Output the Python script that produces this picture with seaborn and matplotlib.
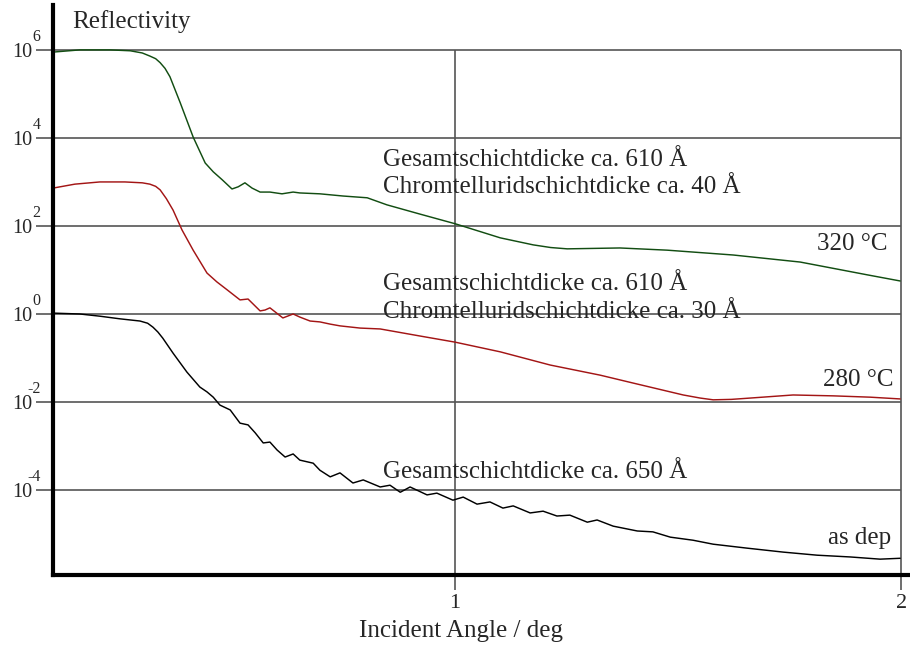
import numpy as np
import pandas as pd
import matplotlib
matplotlib.use("Agg")
import matplotlib.pyplot as plt
import seaborn as sns

# Reflektivitaetskurven (Winkel in deg, log10 der Reflektivitaet)
x_320 = [0.10, 0.16, 0.228, 0.273, 0.300, 0.317, 0.330, 0.340, 0.351, 0.362, 0.385, 0.414,
         0.441, 0.459, 0.479, 0.501, 0.515, 0.530, 0.546, 0.564, 0.586, 0.613, 0.638, 0.653,
         0.698, 0.750, 0.804, 0.848, 0.922, 1.001, 1.102, 1.176, 1.215, 1.252, 1.370, 1.476,
         1.624, 1.774, 1.924, 1.998]
log_320 = [5.95, 6.0, 6.0, 5.98, 5.93, 5.86, 5.80, 5.71, 5.58, 5.39, 4.80, 4.02,
           3.43, 3.23, 3.05, 2.84, 2.89, 2.98, 2.86, 2.77, 2.77, 2.73, 2.77, 2.75,
           2.73, 2.68, 2.64, 2.48, 2.27, 2.05, 1.73, 1.57, 1.51, 1.48, 1.50, 1.45,
           1.34, 1.18, 0.89, 0.75]

x_280 = [0.10, 0.149, 0.205, 0.261, 0.300, 0.317, 0.330, 0.340, 0.354, 0.369, 0.389, 0.414,
         0.445, 0.467, 0.490, 0.519, 0.537, 0.564, 0.575, 0.586, 0.615, 0.638, 0.653, 0.676,
         0.698, 0.721, 0.743, 0.788, 0.833, 0.922, 1.001, 1.102, 1.214, 1.326, 1.400, 1.512,
         1.550, 1.579, 1.620, 1.662, 1.758, 1.848, 1.931, 1.998]
log_280 = [2.86, 2.95, 3.0, 3.0, 2.98, 2.95, 2.90, 2.82, 2.62, 2.36, 1.91, 1.45,
           0.93, 0.73, 0.55, 0.32, 0.34, 0.07, 0.09, 0.14, -0.09, 0.0, -0.07, -0.16,
           -0.18, -0.23, -0.27, -0.32, -0.34, -0.50, -0.64, -0.86, -1.16, -1.39, -1.57, -1.84,
           -1.91, -1.95, -1.94, -1.91, -1.84, -1.86, -1.89, -1.93]

x_dep = [0.10, 0.16, 0.205, 0.25, 0.295, 0.312, 0.324, 0.335, 0.346, 0.369, 0.400, 0.429,
         0.445, 0.459, 0.474, 0.497, 0.519, 0.537, 0.553, 0.571, 0.586, 0.602, 0.620, 0.638,
         0.653, 0.683, 0.698, 0.721, 0.743, 0.772, 0.795, 0.833, 0.855, 0.878, 0.900, 0.938,
         0.960, 0.996, 1.019, 1.050, 1.079, 1.108, 1.131, 1.169, 1.198, 1.229, 1.258, 1.297,
         1.319, 1.355, 1.409, 1.444, 1.483, 1.534, 1.579, 1.655, 1.736, 1.812, 1.886, 1.953,
         1.998]
log_dep = [0.02, 0.0, -0.05, -0.11, -0.16, -0.21, -0.30, -0.41, -0.55, -0.89, -1.32, -1.66,
           -1.77, -1.89, -2.07, -2.18, -2.48, -2.52, -2.70, -2.93, -2.91, -3.09, -3.25, -3.18,
           -3.32, -3.39, -3.55, -3.70, -3.61, -3.84, -3.77, -3.93, -3.89, -4.05, -3.93, -4.11,
           -4.07, -4.23, -4.16, -4.32, -4.27, -4.41, -4.36, -4.52, -4.48, -4.59, -4.57, -4.73,
           -4.68, -4.82, -4.93, -4.95, -5.07, -5.14, -5.23, -5.32, -5.41, -5.48, -5.52, -5.57,
           -5.55]

y_ticks = [1e6, 1e4, 1e2, 1e0, 1e-2, 1e-4]
y_exponents = ["6", "4", "2", "0", "-2", "-4"]
x_ticks = [1, 2]
x_ticklabels = ["1", "2"]

sns.set_style("white")
plt.rcParams["font.family"] = ["Liberation Serif", "DejaVu Serif"]

fig = plt.figure(figsize=(9.1, 6.5), dpi=100)
ax = fig.add_axes([53 / 910, 75 / 650, 857 / 910, 570 / 650])

grid_color = "#555555"

sns.lineplot(x=x_320, y=10 ** np.array(log_320), ax=ax, color="#124d12", lw=1.05)
sns.lineplot(x=x_280, y=10 ** np.array(log_280), ax=ax, color="#a31515", lw=1.05)
sns.lineplot(x=x_dep, y=10 ** np.array(log_dep), ax=ax, color="black", lw=1.05)

ax.set_yscale("log")
ax.set_xlim(0.1, 2.02)
ax.set_ylim(10 ** -5.93, 10 ** 7.02)

# Gitterlinien
ax.hlines(y_ticks, 0.1, 2.0, color=grid_color, lw=1.2, zorder=0)
ax.vlines(x_ticks, 10 ** -5.93, 1e6, color=grid_color, lw=1.2, zorder=0)

ax.set_xticks(x_ticks)
ax.set_xticklabels(x_ticklabels, fontsize=16)
ax.set_yticks(y_ticks)
ax.set_yticklabels(["10"] * len(y_ticks), fontsize=14.5)
ax.minorticks_off()
ax.tick_params(axis="y", length=12, width=1.2, color=grid_color, pad=3, left=True)
ax.tick_params(axis="x", length=11, width=1.2, color=grid_color, pad=3, bottom=True)

for yv, ex in zip(y_ticks, y_exponents):
    ax.annotate(ex, xy=(0, yv), xycoords=("axes fraction", "data"),
                xytext=(-9, 9.5), textcoords="offset points",
                ha="right", va="center", fontsize=11.5)

for side in ["top", "right"]:
    ax.spines[side].set_visible(False)
for side in ["left", "bottom"]:
    ax.spines[side].set_linewidth(3)
    ax.spines[side].set_color("black")

ax.set_xlabel("Incident Angle / deg", fontsize=18)
ax.xaxis.set_label_coords(408 / 857, -45 / 570)
ax.set_ylabel("")
ax.text(19 / 857, 553 / 570, "Reflectivity", transform=ax.transAxes,
        fontsize=18, ha="left", va="center")

# Beschriftungen der Kurven
ax.text(0.839, 10 ** 3.5, "Gesamtschichtdicke ca. 610 Å", fontsize=18, va="center")
ax.text(0.839, 10 ** 2.89, "Chromtelluridschichtdicke ca. 40 Å", fontsize=18, va="center")
ax.text(1.969, 10 ** 1.59, "320 °C", fontsize=18, va="center", ha="right")
ax.text(0.839, 10 ** 0.68, "Gesamtschichtdicke ca. 610 Å", fontsize=18, va="center")
ax.text(0.839, 10 ** 0.05, "Chromtelluridschichtdicke ca. 30 Å", fontsize=18, va="center")
ax.text(1.982, 10 ** -1.5, "280 °C", fontsize=18, va="center", ha="right")
ax.text(0.839, 10 ** -3.59, "Gesamtschichtdicke ca. 650 Å", fontsize=18, va="center")
ax.text(1.978, 10 ** -5.09, "as dep", fontsize=18, va="center", ha="right")

fig.savefig("out.png", dpi=100)
